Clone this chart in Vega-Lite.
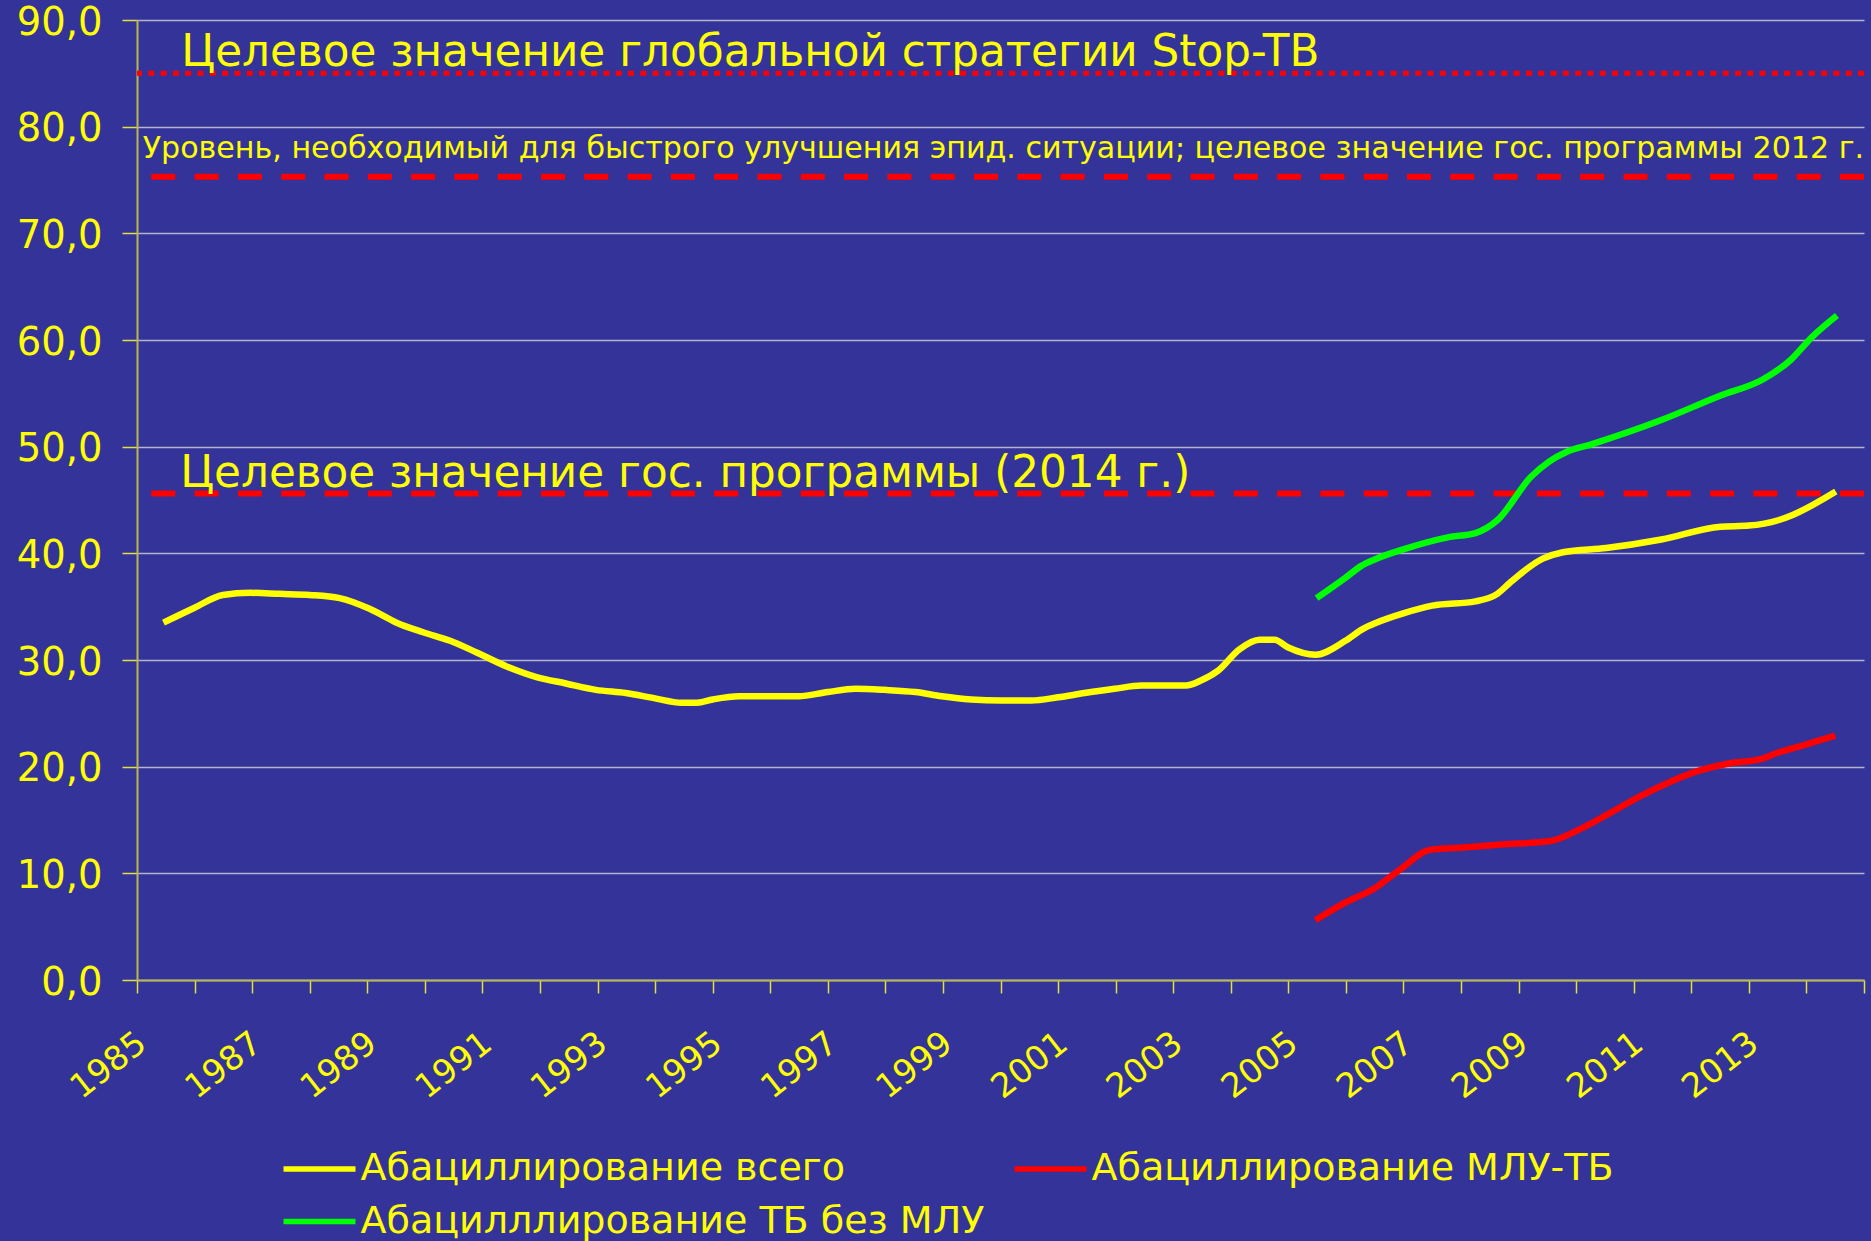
{
  "$schema": "https://vega.github.io/schema/vega-lite/v6.json",
  "autosize": {"type": "none"},
  "padding": {"left": 137, "top": 20, "right": 7, "bottom": 261},
  "width": 1727,
  "height": 960,
  "background": "#333399",
  "config": {"view": {"stroke": null}, "font": "DejaVu Sans"},
  "datasets": {
    "series": [
      {"series": "Абациллирование всего", "year": 1985.46, "value": 33.5},
      {"series": "Абациллирование всего", "year": 1986.0, "value": 34.9},
      {"series": "Абациллирование всего", "year": 1986.49, "value": 36.1},
      {"series": "Абациллирование всего", "year": 1986.97, "value": 36.3},
      {"series": "Абациллирование всего", "year": 1987.48, "value": 36.2},
      {"series": "Абациллирование всего", "year": 1988.0, "value": 36.1},
      {"series": "Абациллирование всего", "year": 1988.52, "value": 35.8},
      {"series": "Абациллирование всего", "year": 1989.04, "value": 34.8},
      {"series": "Абациллирование всего", "year": 1989.51, "value": 33.5},
      {"series": "Абациллирование всего", "year": 1989.97, "value": 32.6},
      {"series": "Абациллирование всего", "year": 1990.44, "value": 31.8},
      {"series": "Абациллирование всего", "year": 1990.9, "value": 30.7},
      {"series": "Абациллирование всего", "year": 1991.42, "value": 29.4},
      {"series": "Абациллирование всего", "year": 1991.94, "value": 28.4},
      {"series": "Абациллирование всего", "year": 1992.45, "value": 27.8},
      {"series": "Абациллирование всего", "year": 1992.97, "value": 27.2},
      {"series": "Абациллирование всего", "year": 1993.49, "value": 26.9},
      {"series": "Абациллирование всего", "year": 1994.0, "value": 26.4},
      {"series": "Абациллирование всего", "year": 1994.46, "value": 26.0},
      {"series": "Абациллирование всего", "year": 1994.73, "value": 26.0},
      {"series": "Абациллирование всего", "year": 1995.0, "value": 26.3},
      {"series": "Абациллирование всего", "year": 1995.46, "value": 26.6},
      {"series": "Абациллирование всего", "year": 1995.97, "value": 26.6},
      {"series": "Абациллирование всего", "year": 1996.49, "value": 26.6},
      {"series": "Абациллирование всего", "year": 1997.0, "value": 27.0},
      {"series": "Абациллирование всего", "year": 1997.48, "value": 27.3},
      {"series": "Абациллирование всего", "year": 1997.98, "value": 27.2},
      {"series": "Абациллирование всего", "year": 1998.52, "value": 27.0},
      {"series": "Абациллирование всего", "year": 1998.98, "value": 26.6},
      {"series": "Абациллирование всего", "year": 1999.49, "value": 26.3},
      {"series": "Абациллирование всего", "year": 2000.01, "value": 26.2},
      {"series": "Абациллирование всего", "year": 2000.53, "value": 26.2},
      {"series": "Абациллирование всего", "year": 2001.0, "value": 26.5},
      {"series": "Абациллирование всего", "year": 2001.46, "value": 26.9},
      {"series": "Абациллирование всего", "year": 2001.98, "value": 27.3},
      {"series": "Абациллирование всего", "year": 2002.45, "value": 27.6},
      {"series": "Абациллирование всего", "year": 2003.22, "value": 27.6},
      {"series": "Абациллирование всего", "year": 2003.49, "value": 28.1},
      {"series": "Абациллирование всего", "year": 2003.78, "value": 29.0},
      {"series": "Абациллирование всего", "year": 2004.15, "value": 31.0},
      {"series": "Абациллирование всего", "year": 2004.5, "value": 31.9},
      {"series": "Абациллирование всего", "year": 2004.76, "value": 31.9},
      {"series": "Абациллирование всего", "year": 2004.99, "value": 31.2},
      {"series": "Абациллирование всего", "year": 2005.47, "value": 30.5},
      {"series": "Абациллирование всего", "year": 2005.99, "value": 31.8},
      {"series": "Абациллирование всего", "year": 2006.29, "value": 32.9},
      {"series": "Абациллирование всего", "year": 2006.53, "value": 33.5},
      {"series": "Абациллирование всего", "year": 2007.01, "value": 34.4},
      {"series": "Абациллирование всего", "year": 2007.5, "value": 35.1},
      {"series": "Абациллирование всего", "year": 2008.25, "value": 35.5},
      {"series": "Абациллирование всего", "year": 2008.63, "value": 36.2},
      {"series": "Абациллирование всего", "year": 2008.84, "value": 37.2},
      {"series": "Абациллирование всего", "year": 2009.42, "value": 39.5},
      {"series": "Абациллирование всего", "year": 2009.77, "value": 40.1},
      {"series": "Абациллирование всего", "year": 2010.52, "value": 40.5},
      {"series": "Абациллирование всего", "year": 2011.48, "value": 41.3},
      {"series": "Абациллирование всего", "year": 2012.51, "value": 42.5},
      {"series": "Абациллирование всего", "year": 2013.0, "value": 42.6},
      {"series": "Абациллирование всего", "year": 2013.51, "value": 43.1},
      {"series": "Абациллирование всего", "year": 2013.76, "value": 43.6},
      {"series": "Абациллирование всего", "year": 2014.51, "value": 45.8},
      {"series": "Абациллирование МЛУ-ТБ", "year": 2005.47, "value": 5.6},
      {"series": "Абациллирование МЛУ-ТБ", "year": 2005.97, "value": 7.2},
      {"series": "Абациллирование МЛУ-ТБ", "year": 2006.5, "value": 8.6},
      {"series": "Абациллирование МЛУ-ТБ", "year": 2006.95, "value": 10.4},
      {"series": "Абациллирование МЛУ-ТБ", "year": 2007.46, "value": 12.2},
      {"series": "Абациллирование МЛУ-ТБ", "year": 2007.98, "value": 12.4},
      {"series": "Абациллирование МЛУ-ТБ", "year": 2008.7, "value": 12.7},
      {"series": "Абациллирование МЛУ-ТБ", "year": 2009.53, "value": 13.0},
      {"series": "Абациллирование МЛУ-ТБ", "year": 2010.05, "value": 14.1},
      {"series": "Абациллирование МЛУ-ТБ", "year": 2010.57, "value": 15.6},
      {"series": "Абациллирование МЛУ-ТБ", "year": 2011.1, "value": 17.2},
      {"series": "Абациллирование МЛУ-ТБ", "year": 2011.6, "value": 18.5},
      {"series": "Абациллирование МЛУ-ТБ", "year": 2012.12, "value": 19.6},
      {"series": "Абациллирование МЛУ-ТБ", "year": 2012.65, "value": 20.3},
      {"series": "Абациллирование МЛУ-ТБ", "year": 2013.2, "value": 20.7},
      {"series": "Абациллирование МЛУ-ТБ", "year": 2013.5, "value": 21.3},
      {"series": "Абациллирование МЛУ-ТБ", "year": 2014.0, "value": 22.1},
      {"series": "Абациллирование МЛУ-ТБ", "year": 2014.5, "value": 22.9},
      {"series": "Абацилллирование ТБ без МЛУ", "year": 2005.49, "value": 35.8},
      {"series": "Абацилллирование ТБ без МЛУ", "year": 2005.99, "value": 37.7},
      {"series": "Абацилллирование ТБ без МЛУ", "year": 2006.26, "value": 38.8},
      {"series": "Абацилллирование ТБ без МЛУ", "year": 2006.53, "value": 39.5},
      {"series": "Абацилллирование ТБ без МЛУ", "year": 2007.01, "value": 40.4},
      {"series": "Абацилллирование ТБ без МЛУ", "year": 2007.77, "value": 41.5},
      {"series": "Абацилллирование ТБ без МЛУ", "year": 2008.25, "value": 41.9},
      {"series": "Абацилллирование ТБ без МЛУ", "year": 2008.63, "value": 43.1},
      {"series": "Абацилллирование ТБ без МЛУ", "year": 2009.22, "value": 47.2},
      {"series": "Абацилллирование ТБ без МЛУ", "year": 2009.53, "value": 48.6},
      {"series": "Абацилллирование ТБ без МЛУ", "year": 2009.83, "value": 49.5},
      {"series": "Абацилллирование ТБ без МЛУ", "year": 2010.25, "value": 50.2},
      {"series": "Абацилллирование ТБ без МЛУ", "year": 2011.48, "value": 52.5},
      {"series": "Абацилллирование ТБ без МЛУ", "year": 2012.51, "value": 54.8},
      {"series": "Абацилллирование ТБ без МЛУ", "year": 2013.24, "value": 56.3},
      {"series": "Абацилллирование ТБ без МЛУ", "year": 2013.72, "value": 58.1},
      {"series": "Абацилллирование ТБ без МЛУ", "year": 2014.1, "value": 60.3},
      {"series": "Абацилллирование ТБ без МЛУ", "year": 2014.53, "value": 62.3}
    ],
    "targets": [
      {"name": "global", "value": 85, "year": 1985.77, "label": "Целевое значение глобальной стратегии Stop-TB"},
      {"name": "level", "value": 75.3, "year": 1985.1, "label": "Уровень, необходимый для быстрого улучшения эпид. ситуации; целевое значение гос. программы 2012 г."},
      {"name": "state", "value": 45.6, "year": 1985.75, "label": "Целевое значение гос. программы (2014 г.)"}
    ]
  },
  "layer": [
    {
      "data": {"name": "targets"},
      "transform": [{"filter": "datum.name === 'global'"}],
      "mark": {"type": "rule", "color": "#FF0000", "strokeWidth": 5, "strokeDash": [6, 6.3]},
      "encoding": {"y": {"field": "value", "type": "quantitative"}}
    },
    {
      "data": {"name": "targets"},
      "transform": [{"filter": "datum.name !== 'global'"}],
      "mark": {"type": "rule", "color": "#FF0000", "strokeWidth": 6, "strokeDash": [24, 19.3]},
      "encoding": {"y": {"field": "value", "type": "quantitative"}}
    },
    {
      "data": {"name": "series"},
      "mark": {"type": "line", "strokeWidth": 6.5, "interpolate": "monotone"},
      "encoding": {
        "x": {
          "field": "year", "type": "quantitative",
          "scale": {"domain": [1985, 2015], "nice": false, "zero": false},
          "axis": {
            "title": null, "grid": false,
            "values": [1985,1986,1987,1988,1989,1990,1991,1992,1993,1994,1995,1996,1997,1998,1999,2000,2001,2002,2003,2004,2005,2006,2007,2008,2009,2010,2011,2012,2013,2014,2015],
            "format": "d",
            "labelExpr": "datum.value % 2 === 1 && datum.value < 2015 ? datum.label : ''",
            "labelAngle": -38, "labelAlign": "right", "labelBaseline": "middle",
            "labelFontSize": 33.5, "labelColor": "#FFFF00", "labelFont": "DejaVu Sans",
            "labelOverlap": false, "labelPadding": 46, "labelOffset": 5,
            "tickSize": 13, "tickColor": "#E0E040", "tickWidth": 1.5,
            "domainColor": "#B8B850", "domainWidth": 2
          }
        },
        "y": {
          "field": "value", "type": "quantitative",
          "scale": {"domain": [0, 90], "nice": false},
          "axis": {
            "title": null,
            "values": [0,10,20,30,40,50,60,70,80,90],
            "labelExpr": "replace(format(datum.value, '.1f'), '.', ',')",
            "labelFontSize": 38.5, "labelColor": "#FFFF00", "labelFont": "DejaVu Sans",
            "labelPadding": 20, "labelOffset": 2,
            "tickSize": 15, "tickColor": "#E0E040", "tickWidth": 1.5,
            "domainColor": "#B8B850", "domainWidth": 2,
            "grid": true, "gridColor": "#B4B4CC", "gridWidth": 1.3
          }
        },
        "color": {
          "field": "series", "type": "nominal",
          "scale": {
            "domain": ["Абациллирование всего", "Абациллирование МЛУ-ТБ", "Абацилллирование ТБ без МЛУ"],
            "range": ["#FFFF00", "#FF0000", "#00FF00"]
          },
          "legend": {
            "title": null, "orient": "none", "legendX": 143.5, "legendY": 1126,
            "direction": "horizontal", "columns": 2,
            "symbolType": "stroke", "symbolSize": 5184, "symbolStrokeWidth": 5.5,
            "clipHeight": 46,
            "labelFontSize": 38, "labelColor": "#FFFF00", "labelFont": "DejaVu Sans",
            "labelLimit": 1000, "labelOffset": 2,
            "rowPadding": 6.5, "columnPadding": 27
          }
        }
      }
    },
    {
      "data": {"name": "targets"},
      "transform": [{"filter": "datum.name !== 'level'"}],
      "mark": {"type": "text", "align": "left", "baseline": "alphabetic", "dy": -7, "fontSize": 43.7, "color": "#FFFF00", "font": "DejaVu Sans"},
      "encoding": {
        "x": {"field": "year", "type": "quantitative"},
        "y": {"field": "value", "type": "quantitative"},
        "text": {"field": "label"}
      }
    },
    {
      "data": {"name": "targets"},
      "transform": [{"filter": "datum.name === 'level'"}],
      "mark": {"type": "text", "align": "left", "baseline": "alphabetic", "dy": -19, "fontSize": 30.1, "color": "#FFFF00", "font": "DejaVu Sans"},
      "encoding": {
        "x": {"field": "year", "type": "quantitative"},
        "y": {"field": "value", "type": "quantitative"},
        "text": {"field": "label"}
      }
    }
  ]
}
